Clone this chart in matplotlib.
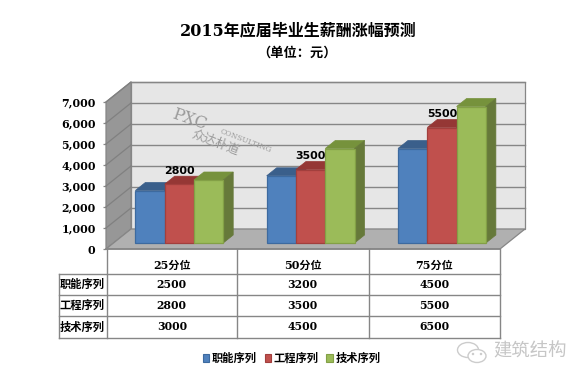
import matplotlib
matplotlib.use("Agg")
import matplotlib.pyplot as plt
from matplotlib.patches import Ellipse, Patch, Polygon

categories = ["25分位", "50分位", "75分位"]
series_names = ["职能序列", "工程序列", "技术序列"]
job_function = [2500, 3200, 4500]
engineering = [2800, 3500, 5500]
technical = [3000, 4500, 6500]
series_values = [job_function, engineering, technical]
yticks = [0, 1000, 2000, 3000, 4000, 5000, 6000, 7000]

face = ["#4f81bd", "#c0504d", "#9bbb59"]
edge = ["#3d6a9f", "#a23f3d", "#83a046"]
top = ["#3a5f8b", "#953735", "#76923c"]
side = ["#385d8a", "#8c3836", "#66793a"]

SERIF = ["DejaVu Serif", "Noto Sans CJK SC"]
CJK = ["Noto Sans CJK SC", "DejaVu Sans"]
GRID = "#868686"

W, H = 585, 380
fig = plt.figure(figsize=(W / 100, H / 100), dpi=100, facecolor="white")

# pixel-coordinate overlay for the table, titles and watermarks
ov = fig.add_axes([0, 0, 1, 1], zorder=3)
ov.set_xlim(0, W)
ov.set_ylim(H, 0)
ov.axis("off")
ov.patch.set_alpha(0)

# main chart axes: its rectangle is the front plane of the 3-D box
L, R, T, B = 106, 500, 102, 249
ax = fig.add_axes([L / W, 1 - B / H, (R - L) / W, (B - T) / H], zorder=2)
ax.set_xlim(0, 3)
ax.set_ylim(0, 7000)
ax.patch.set_alpha(0)
for s in ax.spines.values():
    s.set_visible(False)
ax.set_xticks([])
ax.set_yticks(yticks)
ax.set_yticklabels([f"{v:,}" for v in yticks], family=SERIF, weight="bold", fontsize=7.9)
ax.tick_params(axis="y", length=2.5, width=0.9, color=GRID, pad=5)

px_x = 3 / (R - L)
px_y = 7000 / (B - T)
wall_dx, wall_dy = 25 * px_x, 20 * px_y
depth_dx, depth_dy = 10 * px_x, 8 * px_y
base = 6 * px_y
shift = 7.6 * px_x
bar_w = 29.3 * px_x

# walls and floor
ax.add_patch(Polygon([(wall_dx, wall_dy), (3 + wall_dx, wall_dy), (3 + wall_dx, 7000 + wall_dy), (wall_dx, 7000 + wall_dy)],
                     fc="#e6e6e6", ec=GRID, lw=0.9, clip_on=False, zorder=1))
ax.add_patch(Polygon([(0, 0), (wall_dx, wall_dy), (wall_dx, 7000 + wall_dy), (0, 7000)],
                     fc="#979797", ec=GRID, lw=0.9, clip_on=False, zorder=1))
ax.add_patch(Polygon([(0, 0), (3, 0), (3 + wall_dx, wall_dy), (wall_dx, wall_dy)],
                     fc="#b0b0b0", ec=GRID, lw=0.9, clip_on=False, zorder=1))
for v in yticks[1:]:
    ax.plot([wall_dx, 3 + wall_dx], [v + wall_dy, v + wall_dy], color=GRID, lw=1.0, clip_on=False, zorder=2)
    ax.plot([0, wall_dx], [v, v + wall_dy], color="#808080", lw=0.9, clip_on=False, zorder=2)
ax.plot([0, 3], [0, 0], color=GRID, lw=1.2, clip_on=False, zorder=2)

# bars with depth
for ci in range(len(categories)):
    centre = ci + 0.5 + shift
    for si, vals in enumerate(series_values):
        v = vals[ci]
        x0 = centre + (si - 1.5) * bar_w
        x1 = x0 + bar_w
        y0, y1 = base, base + v
        z = 5 + si
        ax.add_patch(Polygon([(x0, y1), (x1, y1), (x1 + depth_dx, y1 + depth_dy), (x0 + depth_dx, y1 + depth_dy)],
                             fc=top[si], ec=top[si], lw=0.5, clip_on=False, zorder=z))
        ax.add_patch(Polygon([(x1, y0), (x1 + depth_dx, y0 + depth_dy), (x1 + depth_dx, y1 + depth_dy), (x1, y1)],
                             fc=side[si], ec=side[si], lw=0.5, clip_on=False, zorder=z))
        ax.bar(x0, v, width=bar_w, bottom=y0, align="edge", color=face[si], edgecolor=edge[si],
               linewidth=0.9, clip_on=False, zorder=z + 0.5)
    ax.annotate(str(engineering[ci]), (centre, base + engineering[ci]), xytext=(0, 9.4),
                textcoords="offset points", ha="center", va="center", fontsize=7.9,
                family="DejaVu Sans", weight="bold", color="black", zorder=12, annotation_clip=False)

# titles
ov.text(298, 31, "2015年应届毕业生薪酬涨幅预测", ha="center", va="center", family=SERIF, weight="bold", fontsize=11.5)
ov.text(297, 53, "（单位：元）", ha="center", va="center", family=SERIF, weight="bold", fontsize=9.5)

# table
col_x = [106.5, 237, 368.5, 500]
row_y = [273.5, 294.5, 316, 338]
for x in col_x:
    ov.plot([x, x], [249, 338], color=GRID, lw=1.0)
ov.plot([58.5, 58.5], [273.5, 338], color=GRID, lw=1.0)
for y in row_y:
    ov.plot([58.5, 500], [y, y], color=GRID, lw=1.0)
for ci, name in enumerate(categories):
    cx = (col_x[ci] + col_x[ci + 1]) / 2
    ov.text(cx, 265.5, name, ha="center", va="center", family=SERIF, weight="bold", fontsize=8.0)
for si, name in enumerate(series_names):
    cy = (row_y[si] + row_y[si + 1]) / 2
    ov.text(82, cy, name, ha="center", va="center", family=CJK, weight="bold", fontsize=8.1)
    for ci in range(len(categories)):
        cx = (col_x[ci] + col_x[ci + 1]) / 2
        ov.text(cx, cy, str(series_values[si][ci]), ha="center", va="center", family=SERIF, weight="bold", fontsize=7.8)

# legend
handles = [Patch(fc=face[i], ec=edge[i], lw=0.8) for i in range(3)]
leg = fig.legend(handles, series_names, ncol=3, loc="center", bbox_to_anchor=(291.5 / W, 1 - 358 / H), frameon=False,
                 handlelength=0.55, handleheight=0.7, handletextpad=0.25, columnspacing=0.7,
                 prop={"family": CJK, "weight": "bold", "size": 8.1})

# watermark
wm = "#9a9a9a"
ov.text(189, 120, "PXC", rotation=-19, ha="center", va="center", family="DejaVu Serif", fontsize=12, color=wm, zorder=4)
ov.text(246, 141, "CONSULTING", rotation=-21, ha="center", va="center", family="DejaVu Serif", fontsize=5.4, color=wm, zorder=4)
ov.text(215, 143, "众达朴道", rotation=-21, ha="center", va="center", family=CJK, fontsize=9, color=wm, zorder=4)

# WeChat-style mark
mark = "#cccccc"
ov.add_patch(Ellipse((468, 350), 21, 15, fc="none", ec=mark, lw=1.0))
ov.add_patch(Ellipse((477, 356), 18, 13, fc="white", ec=mark, lw=1.0))
for x, y in [(473, 354), (481, 354)]:
    ov.add_patch(Ellipse((x, y), 2.5, 2.5, fc=mark, ec="none"))
ov.text(530, 352, "建筑结构", ha="center", va="center", family=CJK, fontsize=13.2, color="#c6c6c6")

fig.savefig("out.png", dpi=100)
